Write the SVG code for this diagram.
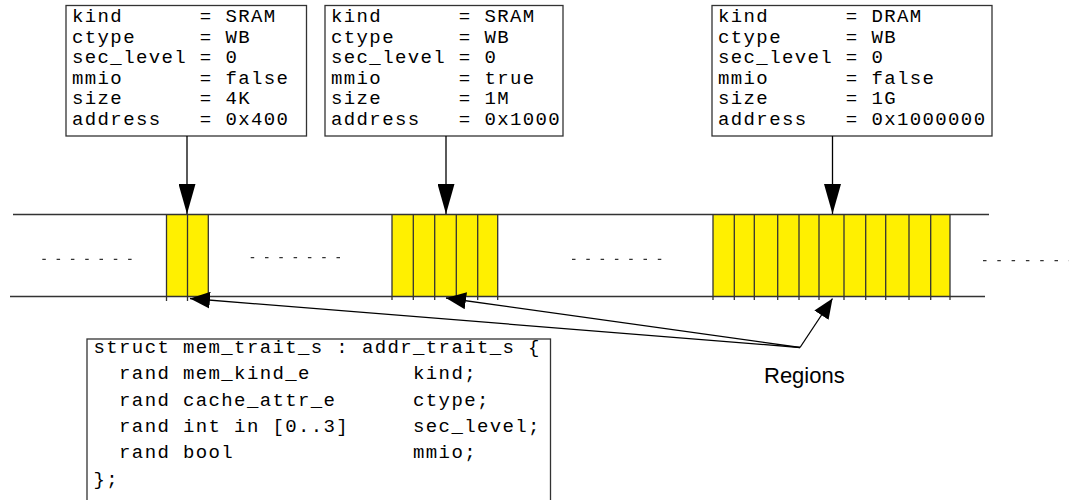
<svg xmlns="http://www.w3.org/2000/svg" width="1069" height="500" viewBox="0 0 1069 500">
  <style>
    .box { fill: #ffffff; stroke: #333333; stroke-width: 1.3; }
    .mono { font-family: "Liberation Mono", "Courier New", monospace; font-size: 19px; letter-spacing: 1.38px; fill: #000000; white-space: pre; }
    .label { font-family: "Liberation Sans", Arial, sans-serif; font-size: 22px; fill: #000000; }
    .rail { stroke: #333333; stroke-width: 1.3; fill: none; }
    .cell { fill: #fff000; stroke: none; }
    .div { stroke: #333333; stroke-width: 1.3; }
    .gap { stroke: #333333; stroke-width: 1.3; stroke-dasharray: 3.5 10.8; fill: none; }
    .conn { stroke: #000000; stroke-width: 1.3; fill: none; }
  </style>
  <defs>
    <marker id="headDown" markerUnits="userSpaceOnUse" markerWidth="30" markerHeight="17" refX="30" refY="8.5" orient="auto">
      <path d="M0,0 L30,8.5 L0,17 z" fill="#000000"/>
    </marker>
    <marker id="headShort" markerUnits="userSpaceOnUse" markerWidth="20" markerHeight="17" refX="20" refY="8.5" orient="auto">
      <path d="M0,0 L20,8.5 L0,17 z" fill="#000000"/>
    </marker>
  </defs>

  <rect width="1069" height="500" fill="#ffffff"/>

  <!-- memory map rails and regions -->
  <g id="memory-map">
    <rect class="cell" x="166.5" y="214.5" width="41.8" height="82"/>
    <rect class="cell" x="392" y="214.5" width="106" height="82"/>
    <rect class="cell" x="713" y="214.5" width="237" height="82"/>
    <line class="rail" x1="13" y1="214.5" x2="989" y2="214.5"/>
    <line class="rail" x1="10" y1="296.5" x2="985" y2="296.5"/>
    <g class="div">
      <line x1="166.5" y1="214" x2="166.5" y2="301"/>
      <line x1="187.5" y1="214" x2="187.5" y2="301"/>
      <line x1="208.3" y1="214" x2="208.3" y2="301"/>

      <line x1="392" y1="214" x2="392" y2="300"/>
      <line x1="413.3" y1="214" x2="413.3" y2="300"/>
      <line x1="434.7" y1="214" x2="434.7" y2="300"/>
      <line x1="456.3" y1="214" x2="456.3" y2="300"/>
      <line x1="477.7" y1="214" x2="477.7" y2="300"/>
      <line x1="497.7" y1="214" x2="497.7" y2="300"/>

      <line x1="713" y1="214" x2="713" y2="300"/>
      <line x1="734.3" y1="214" x2="734.3" y2="300"/>
      <line x1="754.3" y1="214" x2="754.3" y2="300"/>
      <line x1="777.7" y1="214" x2="777.7" y2="300"/>
      <line x1="799" y1="214" x2="799" y2="300"/>
      <line x1="819" y1="214" x2="819" y2="300"/>
      <line x1="844" y1="214" x2="844" y2="300"/>
      <line x1="865.7" y1="214" x2="865.7" y2="300"/>
      <line x1="885.7" y1="214" x2="885.7" y2="300"/>
      <line x1="909" y1="214" x2="909" y2="300"/>
      <line x1="930.7" y1="214" x2="930.7" y2="300"/>
      <line x1="950" y1="214" x2="950" y2="300"/>
    </g>
    <line class="gap" x1="42.3" y1="259.3" x2="133" y2="259.3"/>
    <line class="gap" x1="250.7" y1="257.7" x2="341" y2="257.7"/>
    <line class="gap" x1="572" y1="259.3" x2="662" y2="259.3"/>
    <line class="gap" x1="983" y1="260.7" x2="1075" y2="260.7"/>
  </g>

  <!-- region attribute boxes -->
  <g id="region-sram-4k">
    <rect class="box" x="66" y="5.5" width="240.5" height="130.5"/>
    <text class="mono" x="72" y="22">kind      = SRAM</text>
    <text class="mono" x="72" y="42.6">ctype     = WB</text>
    <text class="mono" x="72" y="63.2">sec_level = 0</text>
    <text class="mono" x="72" y="83.8">mmio      = false</text>
    <text class="mono" x="72" y="104.4">size      = 4K</text>
    <text class="mono" x="72" y="125">address   = 0x400</text>
  </g>

  <g id="region-sram-1m">
    <rect class="box" x="325" y="5.5" width="238" height="130.5"/>
    <text class="mono" x="331" y="22">kind      = SRAM</text>
    <text class="mono" x="331" y="42.6">ctype     = WB</text>
    <text class="mono" x="331" y="63.2">sec_level = 0</text>
    <text class="mono" x="331" y="83.8">mmio      = true</text>
    <text class="mono" x="331" y="104.4">size      = 1M</text>
    <text class="mono" x="331" y="125">address   = 0x1000</text>
  </g>

  <g id="region-dram-1g">
    <rect class="box" x="712" y="5.5" width="280" height="130.5"/>
    <text class="mono" x="718" y="22">kind      = DRAM</text>
    <text class="mono" x="718" y="42.6">ctype     = WB</text>
    <text class="mono" x="718" y="63.2">sec_level = 0</text>
    <text class="mono" x="718" y="83.8">mmio      = false</text>
    <text class="mono" x="718" y="104.4">size      = 1G</text>
    <text class="mono" x="718" y="125">address   = 0x1000000</text>
  </g>

  <!-- struct declaration -->
  <g id="mem-trait-struct">
    <rect class="box" x="87" y="339" width="463.5" height="170"/>
    <text class="mono" x="93.5" y="353">struct mem_trait_s : addr_trait_s {</text>
    <text class="mono" x="93.5" y="379.3">  rand mem_kind_e        kind;</text>
    <text class="mono" x="93.5" y="405.6">  rand cache_attr_e      ctype;</text>
    <text class="mono" x="93.5" y="432">  rand int in [0..3]     sec_level;</text>
    <text class="mono" x="93.5" y="458.3">  rand bool              mmio;</text>
    <text class="mono" x="93.5" y="484.6">};</text>
  </g>

  <g id="regions-label">
    <text class="label" x="764" y="383">Regions</text>
  </g>

  <!-- connectors -->
  <g id="connectors">
    <line class="conn" x1="187" y1="136" x2="187" y2="214" marker-end="url(#headDown)"/>
    <line class="conn" x1="446" y1="136" x2="446" y2="214" marker-end="url(#headDown)"/>
    <line class="conn" x1="832.5" y1="136" x2="832.5" y2="214" marker-end="url(#headDown)"/>
    <line class="conn" x1="800" y1="347.5" x2="190" y2="298.5" marker-end="url(#headShort)"/>
    <line class="conn" x1="800" y1="347.5" x2="446" y2="298" marker-end="url(#headShort)"/>
    <line class="conn" x1="800" y1="347.5" x2="832.5" y2="298.5" marker-end="url(#headShort)"/>
  </g>
</svg>
